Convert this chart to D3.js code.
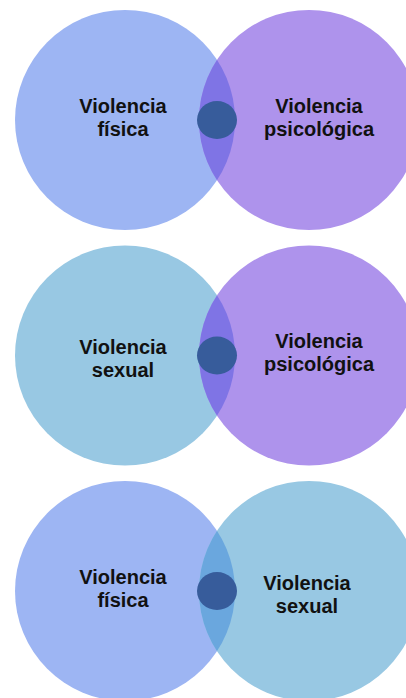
<!DOCTYPE html>
<html>
<head>
  <meta content="text/html;charset=utf-8" http-equiv="Content-Type">
  <title>Tipos de violencia</title>
<script src="https://cdnjs.cloudflare.com/ajax/libs/d3/7.8.5/d3.min.js"></script>
<style>
  body { margin: 0; background: #ffffff; }
  text { font-family: "Liberation Sans", Arial, sans-serif; font-weight: bold; }
</style>
</head>
<body>
<svg id="chart" width="406" height="698"></svg>
<script>

// --- data ---
let leftLabels  = [ ['Violencia', 'física'], ['Violencia', 'sexual'],      ['Violencia', 'física'] ];
let rightLabels = [ ['Violencia', 'psicológica'], ['Violencia', 'psicológica'], ['Violencia', 'sexual'] ];
let leftKind    = [ 'fisica', 'sexual', 'fisica' ];
let rightKind   = [ 'psicologica', 'psicologica', 'sexual' ];

// --- styles ---
let fills = { fisica: '#9db5f3', psicologica: '#ae93ec', sexual: '#98c8e3' };
let lensFill = [ '#7f74e5', '#7f74e5', '#6aa7de' ];
let coreFill = '#375c9b';

// small label shifts (first line, relative to circle centre)
let leftDy  = [ -7, -2, -7 ];
let rightDy = [ -7, -8, -1 ];
let rightDx = [ 10, 10, -2 ];

let svg = d3.select('#chart');

let rows = d3.range(leftLabels.length);
let y = d3.scalePoint().domain(rows).range([120, 591]);
let x = d3.scaleLinear().domain([0, 1]).range([125, 309]);
let r = 110;

let defs = svg.append('defs');
defs.selectAll('clipPath')
    .data(rows)
    .enter()
    .append('clipPath')
    .attr('id', d => 'clipR' + d)
    .append('circle')
    .attr('cx', x(1))
    .attr('cy', d => y(d))
    .attr('r', r);

let g = svg.selectAll('g.venn')
    .data(rows)
    .enter()
    .append('g')
    .attr('class', 'venn');

g.append('circle')
    .attr('cx', x(0))
    .attr('cy', d => y(d))
    .attr('r', r)
    .attr('fill', d => fills[leftKind[d]]);

g.append('circle')
    .attr('cx', x(1))
    .attr('cy', d => y(d))
    .attr('r', r)
    .attr('fill', d => fills[rightKind[d]]);

// overlap lens
g.append('circle')
    .attr('cx', x(0))
    .attr('cy', d => y(d))
    .attr('r', r)
    .attr('fill', d => lensFill[d])
    .attr('clip-path', d => 'url(#clipR' + d + ')');

// dark core
g.append('ellipse')
    .attr('cx', x(0.5))
    .attr('cy', d => y(d))
    .attr('rx', 20)
    .attr('ry', 19)
    .attr('fill', coreFill);

function addLabel(sel, lines, cx, dy) {
  sel.append('text')
      .attr('text-anchor', 'middle')
      .attr('font-size', 20)
      .attr('fill', '#111111')
      .selectAll('tspan')
      .data(d => lines[d].map(t => ({t: t, row: d})))
      .enter()
      .append('tspan')
      .attr('x', d => cx(d.row))
      .attr('y', (d, i) => y(d.row) + dy[d.row] + i * 23)
      .text(d => d.t);
}

addLabel(g, leftLabels, d => x(0) - 2, leftDy);
addLabel(g, rightLabels, d => x(1) + rightDx[d], rightDy);

</script>
</body>
</html>
